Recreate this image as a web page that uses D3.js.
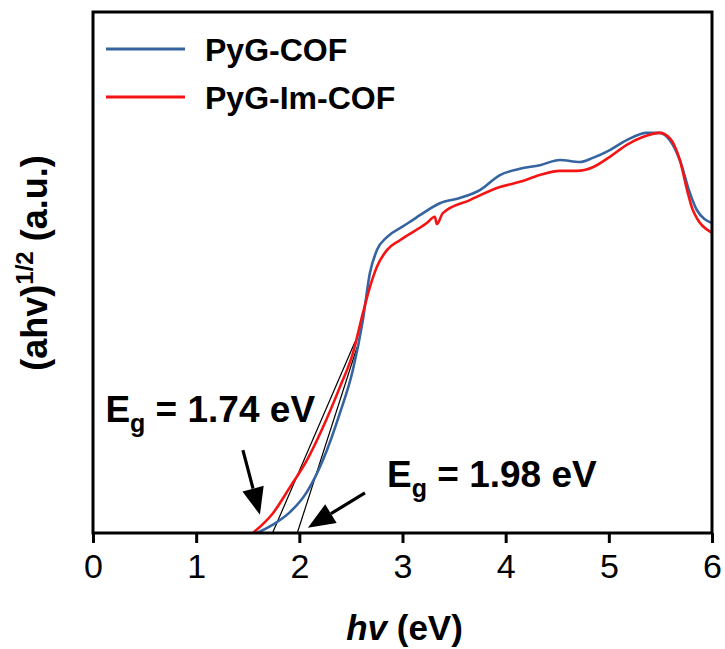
<!DOCTYPE html>
<html>
<head>
<meta charset="utf-8">
<script src="https://cdn.jsdelivr.net/npm/d3@7"></script>
<style>
  body { margin: 0; background: #fff; }
  text { font-family: Arial, "Liberation Sans", sans-serif; }
</style>
</head>
<body>
<div id="chart"></div>
<script>
// photon energy (eV) and (ahv)^1/2 in arbitrary units
var pygCofX = [1.59, 1.744, 1.909, 2.074, 2.229, 2.393, 2.519, 2.616, 2.684, 2.752, 2.849, 3.0, 3.101, 3.169, 3.362, 3.556, 3.75, 3.944, 4.138, 4.331, 4.525, 4.719, 4.845, 5.01, 5.174, 5.368, 5.494, 5.591, 5.688, 5.785, 5.853, 6.0];
var pygCofY = [0, 1.6, 4.0, 7.9, 14.0, 23.0, 31.3, 40.9, 49.9, 54.3, 56.8, 58.8, 60.1, 61.0, 63.3, 64.3, 65.8, 68.7, 69.9, 70.6, 71.6, 71.2, 72.0, 73.5, 75.4, 76.8, 76.8, 75.4, 71.6, 65.3, 62.0, 59.5];

var pygImCofX = [1.55, 1.744, 1.909, 2.074, 2.229, 2.393, 2.519, 2.616, 2.684, 2.752, 2.849, 2.975, 3.236, 3.314, 3.333, 3.391, 3.653, 3.944, 4.138, 4.331, 4.525, 4.69, 4.845, 5.01, 5.174, 5.329, 5.494, 5.591, 5.688, 5.765, 5.814, 6.0];
var pygImCofY = [0, 3.8, 8.8, 14.0, 20.3, 28.0, 34.5, 42.2, 47.2, 51.1, 54.3, 56.2, 59.5, 60.7, 59.3, 61.4, 63.9, 66.4, 67.4, 68.7, 69.5, 69.5, 70.2, 72.2, 74.5, 76.0, 76.8, 75.8, 71.6, 65.3, 62.0, 57.6];

var seriesNames = ["PyG-COF", "PyG-Im-COF"];
var seriesColors = ["#3564a0", "#f41414"];

var xTicks = [0, 1, 2, 3, 4, 5, 6];

// tangent lines used for the band gap
var tangent174 = [[1.74, 0], [2.54, 36.7]];
var tangent198 = [[1.98, 0], [2.56, 35.7]];

// arrows: [tail, tip]
var arrow174 = [[1.453, 15.9], [1.618, 3.5]];
var arrow198 = [[2.636, 7.7], [2.083, 1.0]];

var gapLabels = ["1.74", "1.98"];
var gapLabelPos = [[0.12, 21.3], [2.85, 8.8]];

var width = 725, height = 649;
var margin = {top: 12, right: 13, bottom: 116, left: 93};

var svg = d3.select("#chart")
  .append("svg")
    .attr("width", width)
    .attr("height", height);

var x = d3.scaleLinear().domain([0, 6]).range([margin.left, width - margin.right]);
var y = d3.scaleLinear().domain([0, 100]).range([height - margin.bottom, margin.top]);

var line = d3.line()
    .x(function(d) { return x(d[0]); })
    .y(function(d) { return y(d[1]); })
    .curve(d3.curveMonotoneX);

var series = [
  d3.zip(pygCofX, pygCofY),
  d3.zip(pygImCofX, pygImCofY)
];

// thin black tangents
svg.selectAll(".tangent")
  .data([tangent174, tangent198])
  .enter()
  .append("path")
    .attr("class", "tangent")
    .attr("d", d3.line().x(d => x(d[0])).y(d => y(d[1])))
    .attr("fill", "none")
    .attr("stroke", "black")
    .attr("stroke-width", 1.2);

// curves (red drawn last, on top)
svg.selectAll(".curve")
  .data(series)
  .enter()
  .append("path")
    .attr("class", "curve")
    .attr("d", line)
    .attr("fill", "none")
    .attr("stroke", (d, i) => seriesColors[i])
    .attr("stroke-width", 2.6)
    .attr("stroke-linejoin", "round");

// frame
svg.append("rect")
    .attr("x", x(0))
    .attr("y", y(100))
    .attr("width", x(6) - x(0))
    .attr("height", y(0) - y(100))
    .attr("fill", "none")
    .attr("stroke", "black")
    .attr("stroke-width", 3);

// x axis
var xAxis = svg.append("g")
    .attr("transform", "translate(0," + y(0) + ")")
    .call(d3.axisBottom(x).tickValues(xTicks).tickSize(10).tickPadding(11).tickFormat(d3.format("d")));
xAxis.select(".domain").remove();
xAxis.selectAll(".tick line").attr("stroke", "black").attr("stroke-width", 3);
xAxis.selectAll(".tick text")
    .attr("fill", "black")
    .style("font-size", "34px")
    .style("font-family", "Arial, 'Liberation Sans', sans-serif");

// axis titles
var xTitle = svg.append("text")
    .attr("x", (x(0) + x(6)) / 2 + 2)
    .attr("y", 640)
    .attr("text-anchor", "middle")
    .style("font-size", "35px")
    .style("font-weight", "bold");
xTitle.append("tspan").style("font-style", "italic").text("hv");
xTitle.append("tspan").text(" (eV)");

var yTitle = svg.append("text")
    .attr("transform", "translate(47," + 263 + ") rotate(-90)")
    .attr("text-anchor", "middle")
    .style("font-size", "36px")
    .style("font-weight", "bold");
yTitle.append("tspan").text("(ahv)");
yTitle.append("tspan").attr("dy", -14).style("font-size", "24px").text("1/2");
yTitle.append("tspan").attr("dy", 14).text(" (a.u.)");

// legend
var legend = svg.selectAll(".legend")
  .data(seriesNames)
  .enter()
  .append("g")
    .attr("class", "legend")
    .attr("transform", (d, i) => "translate(106," + (49 + i * 48) + ")");
legend.append("line")
    .attr("x1", 0).attr("x2", 79)
    .attr("stroke", (d, i) => seriesColors[i])
    .attr("stroke-width", 3);
legend.append("text")
    .attr("x", 99)
    .attr("y", 12)
    .style("font-size", "32px")
    .style("font-weight", "bold")
    .text(d => d);

// arrows
function drawArrow(a) {
  var x1 = x(a[0][0]), y1 = y(a[0][1]), x2 = x(a[1][0]), y2 = y(a[1][1]);
  var ang = Math.atan2(y2 - y1, x2 - x1);
  var len = 27, hw = 11;
  var bx = x2 - len * Math.cos(ang), by = y2 - len * Math.sin(ang);
  svg.append("line")
      .attr("x1", x1).attr("y1", y1)
      .attr("x2", bx).attr("y2", by)
      .attr("stroke", "black")
      .attr("stroke-width", 3.2);
  svg.append("path")
      .attr("d", "M" + x2 + "," + y2 +
                 "L" + (bx + hw * Math.sin(ang)) + "," + (by - hw * Math.cos(ang)) +
                 "L" + (bx - hw * Math.sin(ang)) + "," + (by + hw * Math.cos(ang)) + "Z")
      .attr("fill", "black");
}
drawArrow(arrow174);
drawArrow(arrow198);

// band gap labels
gapLabels.forEach(function(v, i) {
  var t = svg.append("text")
      .attr("x", x(gapLabelPos[i][0]))
      .attr("y", y(gapLabelPos[i][1]))
      .style("font-size", "37px")
      .style("font-weight", "bold");
  t.append("tspan").text("E");
  t.append("tspan").attr("dy", 10).style("font-size", "25px").text("g");
  t.append("tspan").attr("dy", -10).text(" = " + v + " eV");
});
</script>
</body>
</html>
